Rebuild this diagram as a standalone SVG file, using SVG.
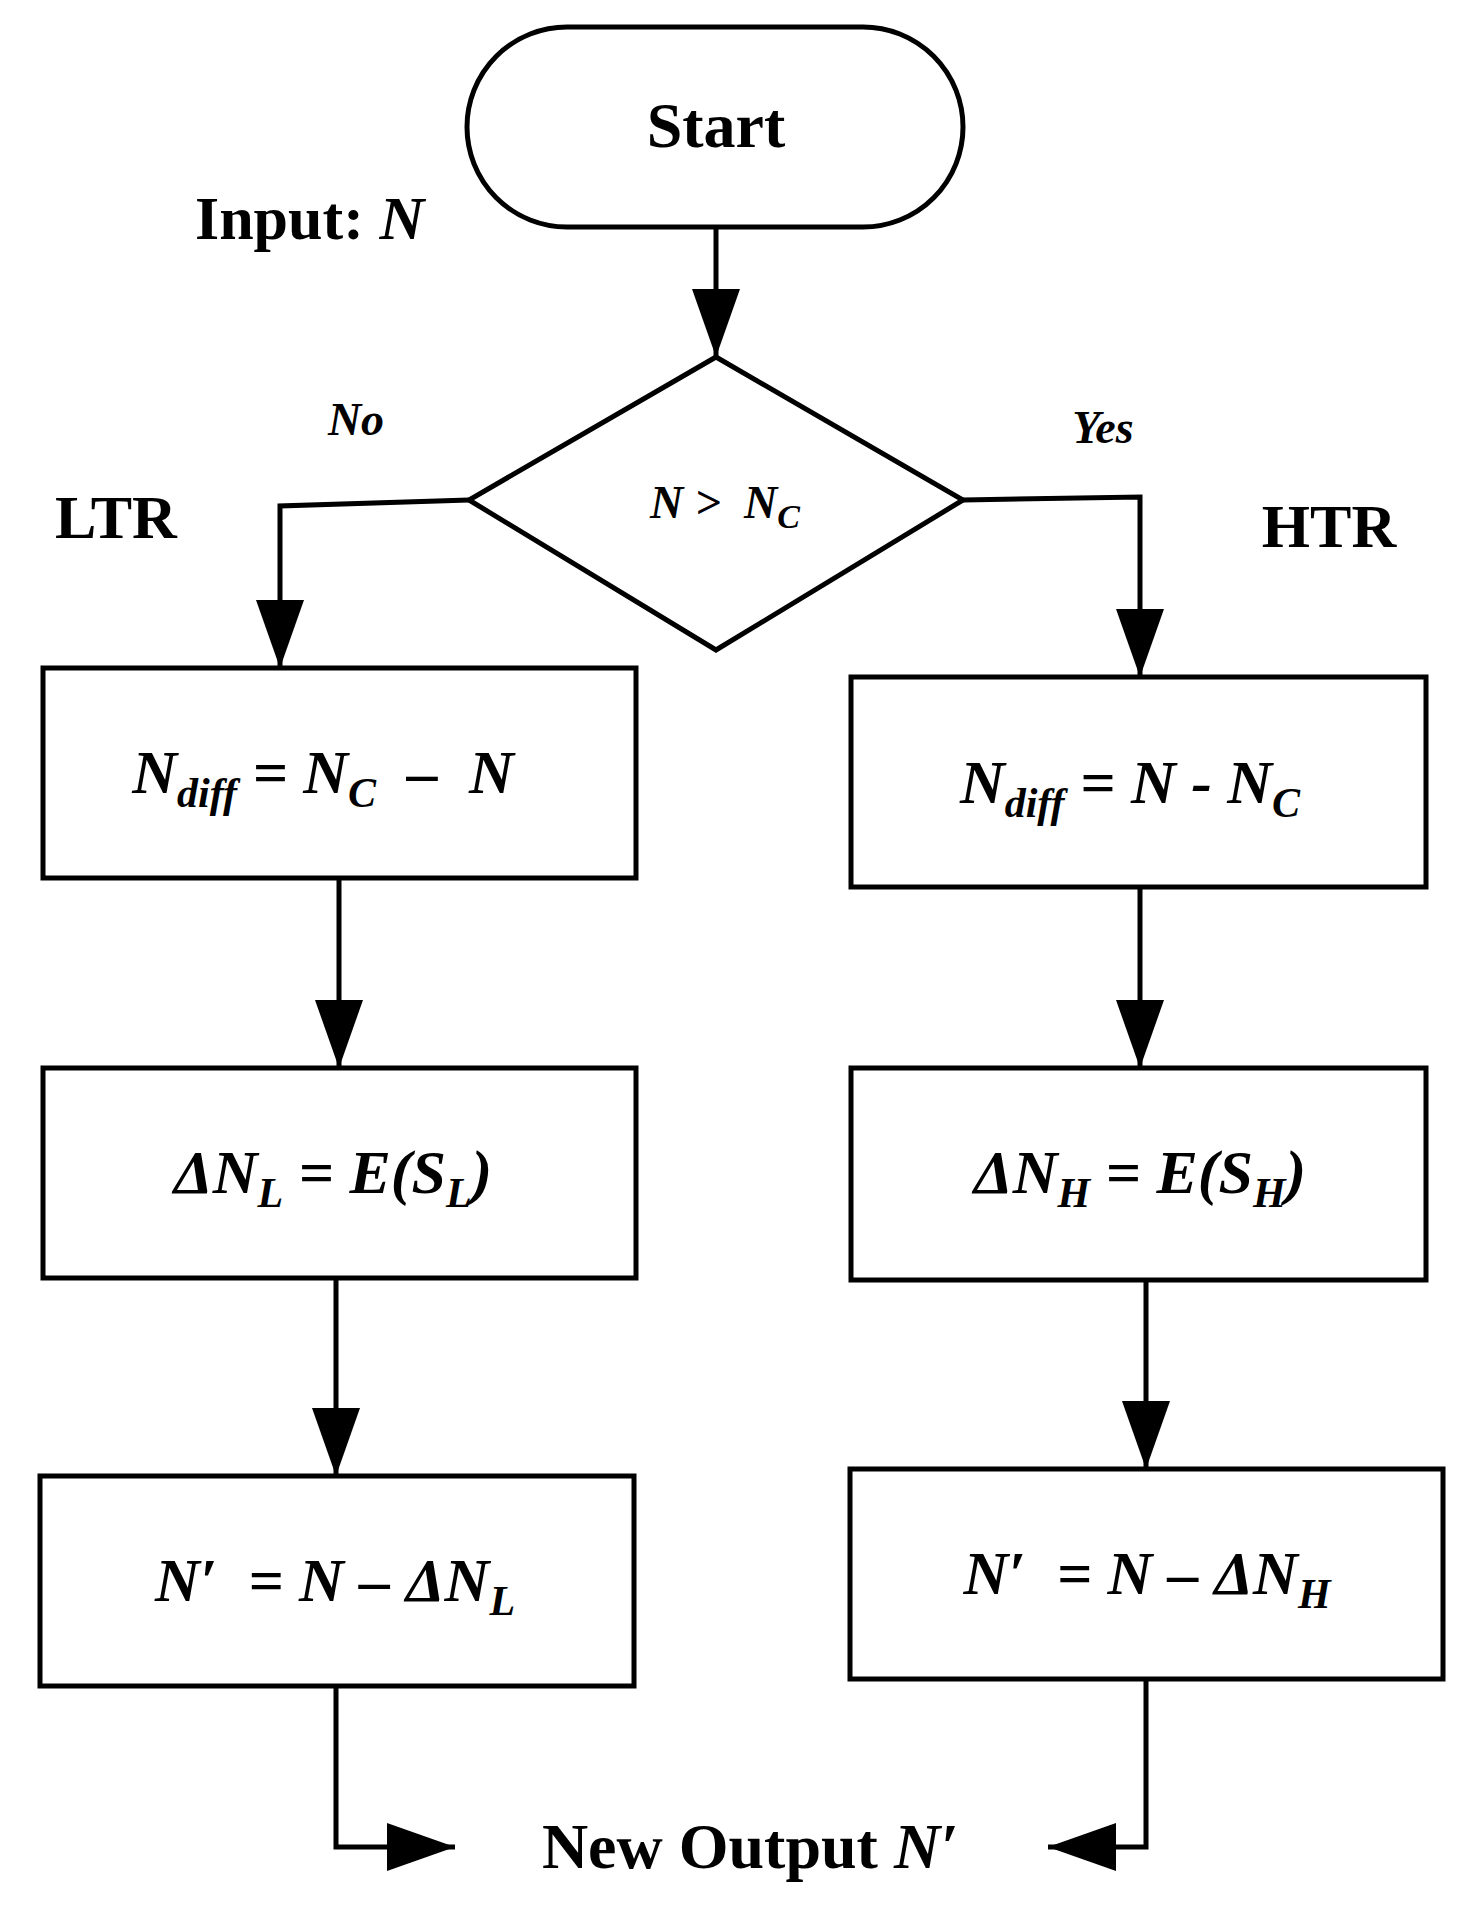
<svg xmlns="http://www.w3.org/2000/svg" width="1475" height="1907" viewBox="0 0 1475 1907">
<style>
.s{fill:#fff;stroke:#000;stroke-width:5}
.l{fill:none;stroke:#000;stroke-width:5}
text{font-family:"Liberation Serif",serif;font-weight:bold;fill:#000}
.i{font-style:italic}
.m{font-size:62px;text-anchor:middle}
</style>
<defs>
<marker id="a" markerUnits="userSpaceOnUse" markerWidth="70" markerHeight="48" refX="68" refY="24" orient="auto"><path d="M0,0 L68,24 L0,48 Z" fill="#000"/></marker>
</defs>
<g id="connectors">
<path class="l" d="M716,227 V357" marker-end="url(#a)"/>
<path class="l" d="M469,500 L280,506 V668" marker-end="url(#a)"/>
<path class="l" d="M963,500 L1140,497 V677" marker-end="url(#a)"/>
<path class="l" d="M339,878 V1068" marker-end="url(#a)"/>
<path class="l" d="M336,1278 V1476" marker-end="url(#a)"/>
<path class="l" d="M1140,887 V1068" marker-end="url(#a)"/>
<path class="l" d="M1146,1280 V1469" marker-end="url(#a)"/>
<path class="l" d="M336,1686 V1847 H455" marker-end="url(#a)"/>
<path class="l" d="M1146,1679 V1847 H1048" marker-end="url(#a)"/>
</g>
<g id="start"><rect class="s" x="467" y="27" width="496" height="200" rx="100"/><text x="716" y="147" font-size="64" text-anchor="middle">Start</text></g>
<g id="input"><text x="195" y="239" font-size="62">Input: <tspan class="i">N</tspan></text></g>
<g id="decision"><path class="s" d="M716,357 L963,500 L716,650 L469,500 Z"/><text class="i" x="725" y="518" font-size="46" text-anchor="middle" xml:space="preserve">N &gt;  N<tspan font-size="34" dy="10">C</tspan></text></g>
<g id="labels">
<text class="i" x="356" y="435" font-size="46" text-anchor="middle">No</text>
<text class="i" x="1103" y="443" font-size="46" text-anchor="middle">Yes</text>
<text x="116" y="538" font-size="62" text-anchor="middle">LTR</text>
<text x="1329" y="547" font-size="62" text-anchor="middle">HTR</text>
</g>
<g id="l1"><rect class="s" x="43" y="668" width="593" height="210"/><text class="m i" x="323" y="793" xml:space="preserve">N<tspan font-size="42" dy="14">diff</tspan><tspan dy="-14"> = N</tspan><tspan font-size="42" dy="14">C</tspan><tspan dy="-14">  –  N</tspan></text></g>
<g id="r1"><rect class="s" x="851" y="677" width="575" height="210"/><text class="m i" x="1130" y="803">N<tspan font-size="42" dy="14">diff</tspan><tspan dy="-14"> = N - N</tspan><tspan font-size="42" dy="14">C</tspan></text></g>
<g id="l2"><rect class="s" x="43" y="1068" width="593" height="210"/><text class="m i" x="333" y="1193">ΔN<tspan font-size="42" dy="14">L</tspan><tspan dy="-14"> = E(S</tspan><tspan font-size="42" dy="14">L</tspan><tspan dy="-14">)</tspan></text></g>
<g id="r2"><rect class="s" x="851" y="1068" width="575" height="212"/><text class="m i" x="1140" y="1193">ΔN<tspan font-size="42" dy="14">H</tspan><tspan dy="-14"> = E(S</tspan><tspan font-size="42" dy="14">H</tspan><tspan dy="-14">)</tspan></text></g>
<g id="l3"><rect class="s" x="40" y="1476" width="594" height="210"/><text class="m i" x="335" y="1601" xml:space="preserve">N′  = N – ΔN<tspan font-size="42" dy="14">L</tspan></text></g>
<g id="r3"><rect class="s" x="850" y="1469" width="593" height="210"/><text class="m i" x="1147" y="1594" xml:space="preserve">N′  = N – ΔN<tspan font-size="42" dy="14">H</tspan></text></g>
<g id="output"><text x="750" y="1868" font-size="64" text-anchor="middle">New Output <tspan class="i">N′</tspan></text></g>
</svg>
